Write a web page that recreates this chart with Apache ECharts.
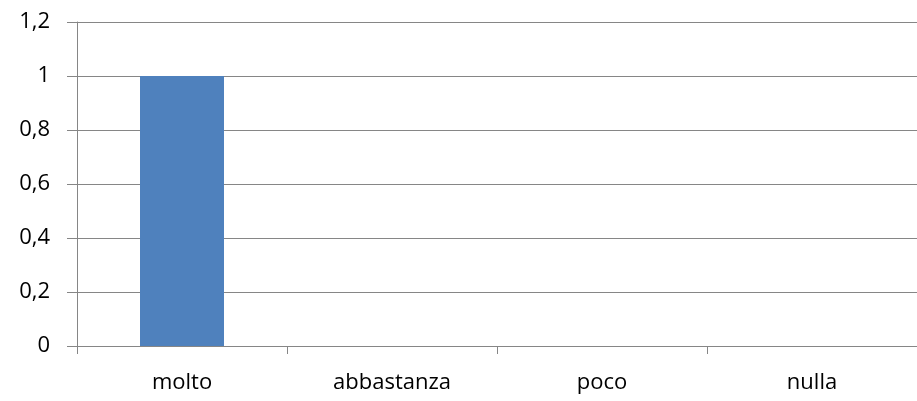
<!DOCTYPE html>
<html><head><meta charset="utf-8">
<script src="https://cdn.jsdelivr.net/npm/echarts@6/dist/echarts.min.js"></script>
<style>html,body{margin:0;padding:0;background:#fff}#c{width:917px;height:401px}</style>
</head><body><div id="c"></div>
<script>
const categories = ['molto', 'abbastanza', 'poco', 'nulla'];
const values = [1, 0, 0, 0];
const yTicks = [0, 0.2, 0.4, 0.6, 0.8, 1, 1.2];

const chart = echarts.init(document.getElementById('c'));
chart.setOption({
  animation: false,
  grid: { left: 77, right: 0, top: 22, bottom: 55, containLabel: false },
  xAxis: {
    type: 'category',
    data: categories,
    axisLine: { lineStyle: { color: '#868686', width: 1 } },
    axisTick: { show: true, length: 8, alignWithLabel: false, lineStyle: { color: '#868686' } },
    axisLabel: { color: '#000', fontSize: 22, fontFamily: 'Open Sans', margin: 26 }
  },
  yAxis: {
    type: 'value',
    min: 0, max: 1.2, interval: 0.2,
    axisLine: { show: true, lineStyle: { color: '#868686', width: 1 } },
    axisTick: { show: true, length: 10, lineStyle: { color: '#868686' } },
    splitLine: { lineStyle: { color: '#868686', width: 1 } },
    axisLabel: {
      color: '#000', fontSize: 22, fontFamily: 'Open Sans', margin: 27,
      formatter: v => String(Math.round(v * 10) / 10).replace('.', ',')
    }
  },
  series: [{
    type: 'bar',
    data: values,
    barWidth: '40%',
    itemStyle: { color: '#4F81BD' }
  }]
});
</script></body></html>
